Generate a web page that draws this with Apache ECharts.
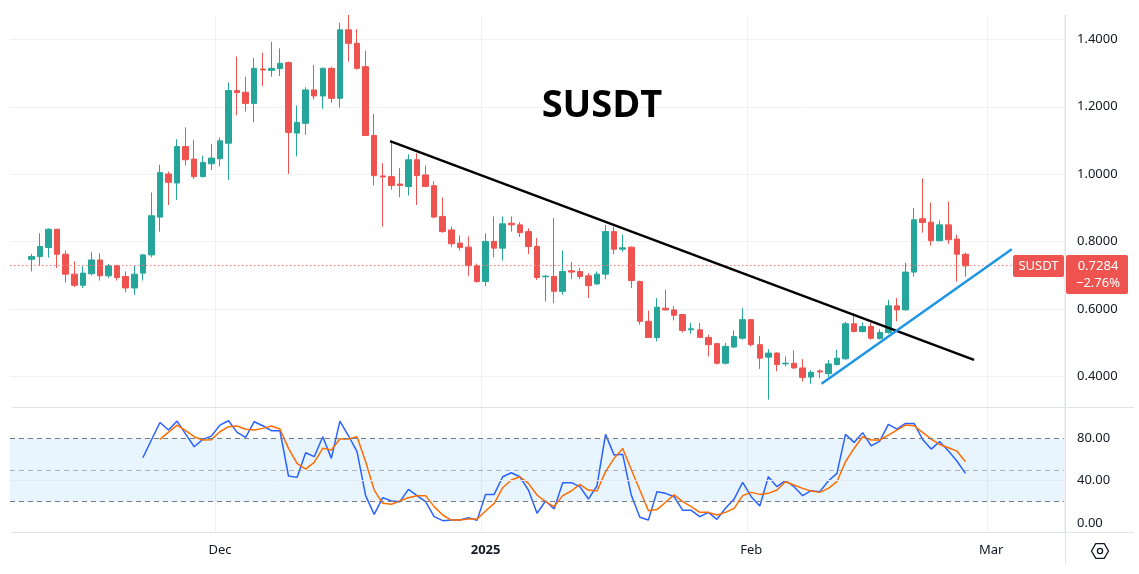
<!DOCTYPE html>
<html>
<head>
<meta charset="utf-8">
<title>SUSDT</title>
<script src="https://cdn.jsdelivr.net/npm/echarts@6/dist/echarts.min.js"></script>
<style>
  html, body { margin: 0; padding: 0; background: #fff; }
  #chart { width: 1139px; height: 574px; }
</style>
</head>
<body>
<div id="chart"></div>
<script>
// daily candles 2024-11-09 .. 2025-02-26
const opens = [
  0.748, 0.756, 0.783, 0.837, 0.763, 0.704, 0.671, 0.705, 0.746, 0.699,
  0.729, 0.697, 0.663, 0.707, 0.761, 0.873, 1.001, 0.974, 1.082, 1.045,
  0.993, 1.031, 1.046, 1.092, 1.248, 1.243, 1.210, 1.312, 1.308, 1.313,
  1.331, 1.122, 1.151, 1.250, 1.232, 1.314, 1.225, 1.428, 1.388, 1.319,
  1.115, 0.995, 0.993, 0.971, 0.964, 1.043, 0.998, 0.966, 0.875, 0.835,
  0.796, 0.784, 0.729, 0.682, 0.801, 0.781, 0.855, 0.850, 0.830, 0.786,
  0.696, 0.697, 0.653, 0.714, 0.712, 0.699, 0.675, 0.704, 0.830, 0.778,
  0.784, 0.682, 0.564, 0.516, 0.603, 0.598, 0.584, 0.539, 0.539, 0.516,
  0.498, 0.440, 0.488, 0.514, 0.569, 0.495, 0.458, 0.470, 0.438, 0.440,
  0.426, 0.399, 0.417, 0.409, 0.436, 0.453, 0.557, 0.534, 0.549, 0.513,
  0.531, 0.610, 0.598, 0.710, 0.868, 0.858, 0.803, 0.850, 0.808, 0.763
];
const highs = [
  0.764, 0.825, 0.840, 0.838, 0.774, 0.742, 0.727, 0.769, 0.766, 0.734,
  0.732, 0.712, 0.729, 0.763, 0.946, 1.028, 1.008, 1.104, 1.139, 1.102,
  1.055, 1.090, 1.109, 1.272, 1.349, 1.289, 1.344, 1.360, 1.393, 1.373,
  1.334, 1.204, 1.258, 1.324, 1.316, 1.319, 1.449, 1.472, 1.430, 1.366,
  1.178, 1.033, 1.099, 1.018, 1.059, 1.062, 1.026, 0.979, 0.931, 0.845,
  0.819, 0.816, 0.735, 0.825, 0.875, 0.875, 0.875, 0.858, 0.840, 0.811,
  0.702, 0.870, 0.774, 0.740, 0.722, 0.707, 0.712, 0.850, 0.845, 0.821,
  0.786, 0.685, 0.596, 0.633, 0.658, 0.610, 0.586, 0.559, 0.559, 0.524,
  0.500, 0.500, 0.537, 0.603, 0.570, 0.521, 0.482, 0.472, 0.460, 0.478,
  0.452, 0.419, 0.422, 0.450, 0.480, 0.562, 0.589, 0.561, 0.559, 0.541,
  0.628, 0.633, 0.737, 0.900, 0.988, 0.916, 0.863, 0.919, 0.821, 0.768
];
const lows = [
  0.712, 0.729, 0.753, 0.722, 0.679, 0.666, 0.663, 0.700, 0.685, 0.692,
  0.685, 0.650, 0.643, 0.685, 0.754, 0.830, 0.909, 0.924, 1.026, 0.986,
  0.990, 1.013, 1.023, 0.983, 1.175, 1.186, 1.154, 1.262, 1.289, 1.291,
  1.001, 1.053, 1.117, 1.222, 1.194, 1.212, 1.198, 1.334, 1.310, 1.113,
  0.967, 0.845, 0.954, 0.932, 0.937, 0.909, 0.961, 0.870, 0.827, 0.784,
  0.774, 0.699, 0.679, 0.668, 0.754, 0.744, 0.830, 0.814, 0.763, 0.687,
  0.623, 0.618, 0.643, 0.689, 0.689, 0.633, 0.672, 0.689, 0.763, 0.770,
  0.663, 0.554, 0.515, 0.505, 0.596, 0.567, 0.531, 0.527, 0.515, 0.460,
  0.436, 0.436, 0.485, 0.510, 0.490, 0.423, 0.332, 0.416, 0.431, 0.423,
  0.386, 0.379, 0.396, 0.399, 0.433, 0.450, 0.531, 0.531, 0.510, 0.510,
  0.527, 0.564, 0.596, 0.697, 0.827, 0.788, 0.801, 0.793, 0.682, 0.697
];
const closes = [
  0.756, 0.786, 0.837, 0.763, 0.704, 0.671, 0.707, 0.746, 0.699, 0.729,
  0.694, 0.663, 0.704, 0.761, 0.877, 1.005, 0.976, 1.082, 1.043, 0.993,
  1.035, 1.048, 1.099, 1.248, 1.242, 1.210, 1.314, 1.309, 1.314, 1.329,
  1.124, 1.154, 1.250, 1.232, 1.314, 1.225, 1.428, 1.388, 1.314, 1.115,
  0.996, 0.992, 0.967, 0.967, 1.043, 0.996, 0.964, 0.873, 0.830, 0.794,
  0.783, 0.729, 0.682, 0.801, 0.781, 0.853, 0.850, 0.827, 0.786, 0.694,
  0.698, 0.653, 0.712, 0.710, 0.697, 0.670, 0.704, 0.830, 0.778, 0.782,
  0.685, 0.564, 0.516, 0.606, 0.598, 0.582, 0.537, 0.542, 0.516, 0.495,
  0.440, 0.490, 0.519, 0.569, 0.495, 0.455, 0.470, 0.436, 0.440, 0.426,
  0.398, 0.413, 0.414, 0.438, 0.455, 0.557, 0.534, 0.549, 0.514, 0.531,
  0.610, 0.598, 0.710, 0.865, 0.857, 0.803, 0.850, 0.806, 0.763, 0.7284
];

// stoch RSI, %K from candle 13, %D from candle 15
const kStart = 13;
const stochK = [
  61.6, 78.4, 95.0, 87.8, 96.3, 84.0, 72.0, 79.0, 82.1, 92.5,
  96.6, 85.6, 80.9, 95.7, 91.9, 87.2, 87.2, 44.3, 43.0, 66.3,
  62.6, 81.5, 61.0, 96.3, 82.4, 67.3, 25.7, 8.0, 23.8, 20.6,
  20.0, 31.7, 25.7, 20.0, 5.8, 2.0, 2.6, 2.6, 4.9, 2.3,
  26.9, 26.9, 43.6, 47.4, 43.6, 31.0, 9.0, 20.6, 13.1, 38.0,
  38.0, 34.2, 22.5, 35.1, 83.7, 64.1, 64.8, 26.3, 5.2, 2.6,
  29.5, 27.9, 24.7, 11.8, 11.8, 5.8, 9.9, 3.3, 13.7, 22.5,
  38.3, 24.7, 15.9, 43.6, 34.2, 39.9, 34.2, 25.7, 30.4, 29.5,
  39.6, 46.8, 83.7, 76.1, 85.3, 72.9, 77.4, 93.1, 88.7, 94.1,
  94.1, 78.9, 69.8, 76.8, 68.2, 58.5, 46.8
];
const dStart = 15;
const stochD = [
  79.0, 85.8, 92.5, 87.2, 81.5, 78.4, 78.7, 86.2,
  91.0, 91.6, 88.5, 87.8, 89.4, 91.6, 88.8, 70.5, 56.3, 50.9,
  57.2, 70.5, 68.9, 79.3, 79.3, 81.5, 57.8, 31.0, 18.4, 17.5,
  20.6, 23.8, 25.7, 25.7, 15.3, 7.4, 2.6, 2.6, 3.6, 3.6,
  11.2, 18.4, 33.2, 40.5, 43.6, 37.3, 26.3, 20.0, 15.3, 25.7,
  30.1, 36.4, 31.0, 30.1, 48.4, 61.0, 70.4, 50.5, 31.0, 11.5,
  12.5, 19.5, 26.5, 20.0, 15.3, 9.9, 9.9, 7.4, 9.9, 13.7,
  25.7, 28.8, 26.9, 27.9, 31.0, 38.9, 35.8, 32.6, 30.1, 28.8,
  32.6, 38.9, 57.8, 70.4, 81.5, 78.4, 78.4, 83.1, 87.8, 92.5,
  91.9, 85.6, 79.3, 74.2, 71.1, 67.9, 57.8
];

const lastPrice = 0.7284;
const lastChange = '\u22122.76%';
const monthTicks = ['2024-12-01', '2025-01-01', '2025-02-01', '2025-03-01'];
const monthLabels = ['Dec', '2025', 'Feb', 'Mar'];

// hand drawn trend lines: [day slot, price]
const downTrend = [[43.85, 1.098], [112.0, 0.450]];
const upTrend = [[94.2, 0.379], [116.4, 0.778]];

// day slots on the axis: 2024-11-07 .. 2025-03-09
const lead = 2;
const days = [];
const t0 = Date.UTC(2024, 10, 7);
for (let k = 0; k < 123; k++) {
  days.push(new Date(t0 + k * 864e5).toISOString().slice(0, 10));
}

const candleData = days.map((d, k) => {
  const i = k - lead;
  if (i < 0 || i >= closes.length) return ['-', '-', '-', '-'];
  return [opens[i], closes[i], lows[i], highs[i]];
});
const kData = stochK.map((v, i) => [days[lead + kStart + i], v]);
const dData = stochD.map((v, i) => [days[lead + dStart + i], v]);

const FONT = '"Noto Sans", "Open Sans", sans-serif';
const TEXT = '#131722';
const GRID = '#eff1f4';
const RED = '#ef5350';
const isMonth = (idx, val) => monthTicks.indexOf(val) >= 0;

const chart = echarts.init(document.getElementById('chart'));
chart.setOption({
  animation: false,
  backgroundColor: '#ffffff',
  grid: [
    { left: 10, width: 1054, top: 39.3, height: 337.4 },
    { left: 10, width: 1054, top: 438.3, height: 84.5 },
    { left: 10, width: 1054, top: 15, height: 392 },
    { left: 10, width: 1054, top: 408, height: 124.5 }
  ],
  xAxis: [
    {
      type: 'category', gridIndex: 0, data: days, boundaryGap: true,
      axisLine: { show: false }, axisTick: { show: false }, axisLabel: { show: false },
      splitLine: { show: false }
    },
    { type: 'value', gridIndex: 0, min: -0.5, max: 122.5, show: false },
    {
      type: 'category', gridIndex: 1, data: days, boundaryGap: true,
      axisLine: { show: false }, axisTick: { show: false }, splitLine: { show: false },
      axisLabel: {
        interval: isMonth,
        margin: 21,
        color: TEXT,
        fontSize: 13,
        fontFamily: FONT,
        formatter: function (val) {
          const i = monthTicks.indexOf(val);
          return i === 1 ? '{y|' + monthLabels[i] + '}' : monthLabels[i];
        },
        rich: { y: { fontWeight: 'bold', fontSize: 13, color: TEXT, fontFamily: FONT } }
      }
    },
    {
      type: 'category', gridIndex: 2, data: days, boundaryGap: true,
      axisLine: { show: false }, axisTick: { show: false }, axisLabel: { show: false },
      splitLine: { show: true, interval: isMonth, lineStyle: { color: GRID, width: 1 } }
    },
    {
      type: 'category', gridIndex: 3, data: days, boundaryGap: true,
      axisLine: { show: false }, axisTick: { show: false }, axisLabel: { show: false },
      splitLine: { show: true, interval: isMonth, lineStyle: { color: GRID, width: 1 } }
    }
  ],
  yAxis: [
    {
      type: 'value', gridIndex: 0, position: 'right', min: 0.4, max: 1.4, interval: 0.2,
      axisLine: { show: false }, axisTick: { show: false },
      splitLine: { lineStyle: { color: GRID, width: 1 } },
      axisLabel: {
        margin: 13, color: TEXT, fontSize: 13, fontFamily: FONT,
        formatter: v => v.toFixed(4)
      }
    },
    {
      type: 'value', gridIndex: 1, position: 'right', min: 0, max: 80, interval: 40,
      axisLine: { show: false }, axisTick: { show: false }, splitLine: { show: false },
      axisLabel: {
        margin: 13, color: TEXT, fontSize: 13, fontFamily: FONT,
        formatter: v => v.toFixed(2)
      }
    },
    { type: 'value', gridIndex: 2, show: false },
    { type: 'value', gridIndex: 3, show: false }
  ],
  series: [
    {
      name: 'SUSDT',
      type: 'candlestick',
      xAxisIndex: 0,
      yAxisIndex: 0,
      clip: false,
      barWidth: 6,
      data: candleData,
      itemStyle: {
        color: '#26a69a', color0: RED,
        borderColor: '#26a69a', borderColor0: RED, borderWidth: 1
      }
    },
    {
      // last price marker line
      name: 'last',
      type: 'line',
      xAxisIndex: 0,
      yAxisIndex: 0,
      symbol: 'none',
      data: [],
      z: 1,
      markLine: {
        silent: true,
        symbol: 'none',
        label: { show: false },
        lineStyle: { color: '#f08080', type: [1.5, 2.5], width: 1 },
        data: [{ yAxis: lastPrice }]
      }
    },
    {
      name: 'down trend',
      type: 'line',
      xAxisIndex: 1,
      yAxisIndex: 0,
      clip: false,
      symbol: 'none',
      z: 5,
      lineStyle: { color: '#000000', width: 2.5 },
      data: downTrend
    },
    {
      name: 'up trend',
      type: 'line',
      xAxisIndex: 1,
      yAxisIndex: 0,
      clip: false,
      symbol: 'none',
      z: 6,
      lineStyle: { color: '#1e96e4', width: 2.5 },
      data: upTrend
    },
    {
      name: '%K',
      type: 'line',
      xAxisIndex: 2,
      yAxisIndex: 1,
      clip: false,
      symbol: 'none',
      lineStyle: { color: '#2962ff', width: 1.5 },
      data: kData,
      markArea: {
        silent: true,
        itemStyle: { color: 'rgba(33,150,243,0.1)' },
        data: [[{ yAxis: 20 }, { yAxis: 80 }]]
      },
      markLine: {
        silent: true,
        symbol: 'none',
        label: { show: false },
        lineStyle: { color: '#787b86', type: [5, 4], width: 1 },
        data: [
          { yAxis: 80 },
          { yAxis: 50, lineStyle: { color: 'rgba(120,123,134,0.55)', type: [5, 4], width: 1 } },
          { yAxis: 20 },
          { yAxis: 40, lineStyle: { color: '#e6e9ef', type: 'solid', width: 1 } }
        ]
      }
    },
    {
      name: '%D',
      type: 'line',
      xAxisIndex: 2,
      yAxisIndex: 1,
      clip: false,
      symbol: 'none',
      lineStyle: { color: '#ff6d00', width: 1.5 },
      data: dData
    }
  ]
});

// price tag and frame drawn after the axes exist
const yLast = chart.convertToPixel({ yAxisIndex: 0 }, lastPrice);
const border = { stroke: '#e0e3eb', lineWidth: 1 };
const hex = [];
for (let a = 0; a < 6; a++) {
  hex.push([1100 + 8.5 * Math.cos(a * Math.PI / 3), 551 + 8.5 * Math.sin(a * Math.PI / 3)]);
}
chart.setOption({
  graphic: [
    { type: 'line', silent: true, shape: { x1: 12, y1: 407.5, x2: 1134, y2: 407.5 }, style: border },
    { type: 'line', silent: true, shape: { x1: 12, y1: 532.5, x2: 1134, y2: 532.5 }, style: border },
    { type: 'line', silent: true, shape: { x1: 1065.5, y1: 15, x2: 1065.5, y2: 564 }, style: border },
    {
      type: 'text', silent: true, x: 602, y: 106, z: 10,
      style: {
        text: 'SUSDT', fill: '#000000', align: 'center', verticalAlign: 'middle',
        font: 'bold 38px "Open Sans", "Noto Sans", sans-serif'
      }
    },
    {
      type: 'rect', silent: true, z: 10,
      shape: { x: 1013, y: yLast - 11, width: 51, height: 22, r: 2 },
      style: { fill: RED }
    },
    {
      type: 'text', silent: true, z: 11, x: 1038.5, y: yLast,
      style: {
        text: 'SUSDT', fill: '#ffffff', align: 'center', verticalAlign: 'middle',
        font: '13px ' + FONT
      }
    },
    {
      type: 'rect', silent: true, z: 10,
      shape: { x: 1066, y: yLast - 11, width: 62, height: 39, r: 2 },
      style: { fill: RED }
    },
    {
      type: 'text', silent: true, z: 11, x: 1098, y: yLast,
      style: {
        text: lastPrice.toFixed(4), fill: '#ffffff', align: 'center', verticalAlign: 'middle',
        font: '13px ' + FONT
      }
    },
    {
      type: 'text', silent: true, z: 11, x: 1098, y: yLast + 17,
      style: {
        text: lastChange, fill: '#ffffff', align: 'center', verticalAlign: 'middle',
        font: '13px ' + FONT
      }
    },
    {
      type: 'polygon', silent: true, shape: { points: hex },
      style: { fill: 'none', stroke: TEXT, lineWidth: 1.3 }
    },
    {
      type: 'circle', silent: true, shape: { cx: 1100, cy: 551, r: 2.6 },
      style: { fill: 'none', stroke: TEXT, lineWidth: 1.3 }
    }
  ]
});
</script>
</body>
</html>
